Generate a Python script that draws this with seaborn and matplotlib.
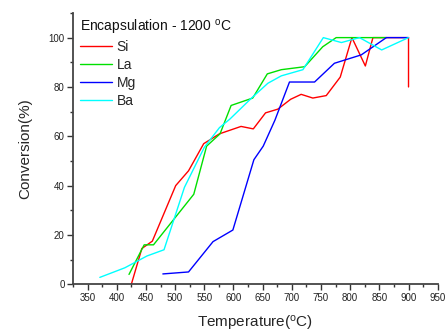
import matplotlib
matplotlib.use("Agg")
import matplotlib.pyplot as plt
import seaborn as sns
import pandas as pd
from matplotlib.ticker import MultipleLocator

# ---- data ----
si_x = [425, 443, 461, 501, 523, 549, 576, 613, 634, 655, 676, 698, 716, 736, 759, 783, 803, 826, 839, 900, 900]
si_y = [0, 14.5, 17.5, 40, 46, 57, 61, 64, 63, 69.5, 71, 75, 77, 75.5, 76.5, 84, 100, 88.5, 100, 100, 80]

la_x = [421, 447, 463, 532, 554, 577, 596, 633, 658, 682, 722, 753, 776, 862]
la_y = [4, 16, 16, 36.5, 56, 61, 72.5, 75.5, 85.3, 87, 88.2, 96.3, 100, 100]

mg_x = [479, 523, 565, 599, 635, 651, 671, 696, 739, 773, 819, 862, 900]
mg_y = [4.2, 5, 17.3, 22, 50.5, 56, 66.5, 82, 82, 89.6, 93, 100, 100]

ba_x = [371, 414, 452, 481, 516, 550, 576, 594, 631, 659, 682, 719, 754, 785, 816, 854, 900]
ba_y = [2.8, 6.7, 11.5, 14, 39.3, 55.5, 63.5, 67, 75.5, 81.5, 84.5, 87, 100, 98, 100, 95, 100]

names = ["Si", "La", "Mg", "Ba"]
colors = ["#FF0000", "#00E000", "#0000FF", "#00FFFF"]
legend_title = r"Encapsulation - 1200 $^{\mathrm{o}}$C"

xticks = [350, 400, 450, 500, 550, 600, 650, 700, 750, 800, 850, 900, 950]
yticks = [0, 20, 40, 60, 80, 100]

rows = []
for n, xs, ys in zip(names, [si_x, la_x, mg_x, ba_x], [si_y, la_y, mg_y, ba_y]):
    for i, (a, b) in enumerate(zip(xs, ys)):
        rows.append({"series": n, "idx": i, "T": a, "conv": b})
df = pd.DataFrame(rows)

sns.set_theme(style="ticks")
plt.rcParams["font.family"] = ["Liberation Sans", "DejaVu Sans"]
plt.rcParams["mathtext.fontset"] = "custom"
plt.rcParams["mathtext.rm"] = "Liberation Sans"
plt.rcParams["mathtext.it"] = "Liberation Sans"

fig = plt.figure(figsize=(4.45, 3.32), dpi=100)
ax = fig.add_axes([0.164, 0.1437, 0.8196, 0.8173])

sns.lineplot(data=df, x="T", y="conv", hue="series", hue_order=names,
             palette=dict(zip(names, colors)), estimator=None, sort=False,
             units="series", linewidth=1.0, ax=ax)

ax.set_xlim(325, 950)
ax.set_ylim(0, 110)
ax.set_xticks(xticks)
ax.set_yticks(yticks)
ax.xaxis.set_minor_locator(MultipleLocator(25))
ax.yaxis.set_minor_locator(MultipleLocator(10))
ax.tick_params(axis="both", which="major", direction="out", length=4, width=1,
               labelsize=7, color="#333333", labelcolor="#222222", pad=2)
ax.tick_params(axis="both", which="minor", direction="out", length=2, width=1, color="#333333")
for s in ["top", "right"]:
    ax.spines[s].set_visible(False)
for s in ["left", "bottom"]:
    ax.spines[s].set_color("#444444")
    ax.spines[s].set_linewidth(1.3)

ax.set_xlabel(r"Temperature($^{\mathrm{o}}$C)", fontsize=11, labelpad=8)
ax.set_ylabel("Conversion(%)", fontsize=11, labelpad=12)

ax.text(0.019, 0.948, legend_title, transform=ax.transAxes, fontsize=10,
        ha="left", va="center", color="#111111")

handles, labels = ax.get_legend_handles_labels()
leg = ax.legend(handles, labels, loc="upper left", frameon=False, fontsize=10,
                handlelength=2.3, handletextpad=0.35, labelspacing=0.3,
                borderaxespad=0, borderpad=0, bbox_to_anchor=(0.019, 0.902))
for line in leg.get_lines():
    line.set_linewidth(1.0)

fig.savefig("out.png", dpi=100)
